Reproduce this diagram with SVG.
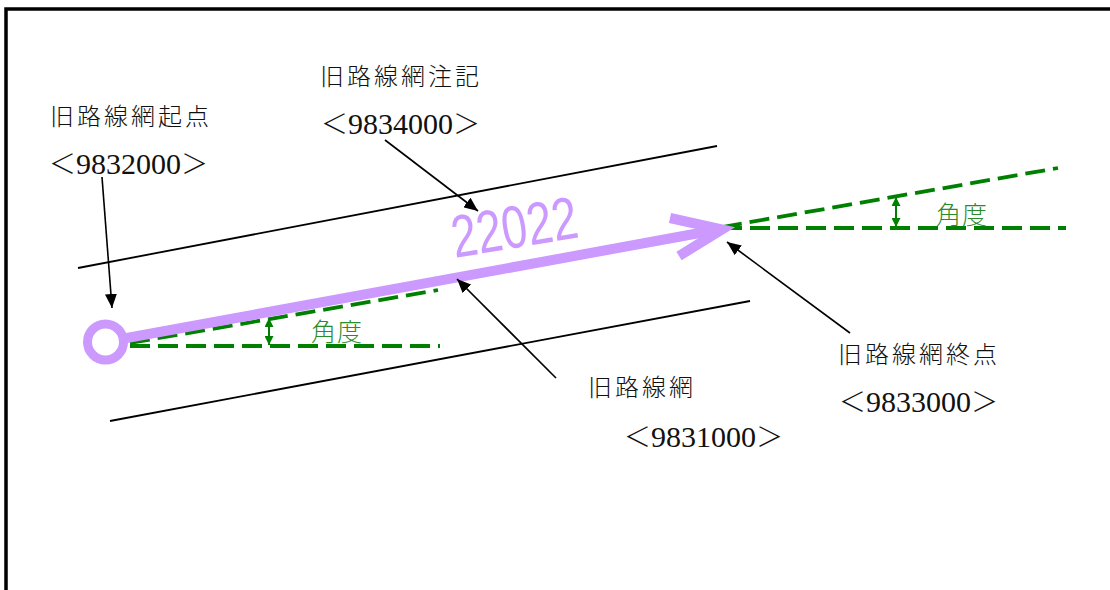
<svg xmlns="http://www.w3.org/2000/svg" width="1110" height="590" viewBox="0 0 1110 590">
<defs>
<style>
.lbl{font-family:"Liberation Serif","Noto Sans CJK JP",serif;font-size:24px;font-weight:300;fill:#111;letter-spacing:3px}
.num{font-family:"Liberation Serif","Noto Sans CJK JP",serif;font-size:27px;font-weight:300;fill:#111}
.d{font-size:30px;font-weight:normal}
.ang{font-family:"Noto Sans CJK JP",sans-serif;font-size:25px;font-weight:300;fill:#2a8c2a;letter-spacing:1px}
.rail{stroke:#000;stroke-width:1.8;fill:none}
.ptr{stroke:#000;stroke-width:1.6;fill:none;marker-end:url(#ah)}
.dash{stroke:#008000;stroke-width:3.8;fill:none;stroke-dasharray:20 8}
.dim{stroke:#008000;stroke-width:2;fill:none;marker-start:url(#gh);marker-end:url(#gh)}
.pur{stroke:#cc99ff;fill:none}
</style>
<marker id="ah" viewBox="0 0 14 12" refX="14" refY="6" markerWidth="14" markerHeight="12" markerUnits="userSpaceOnUse" orient="auto">
<path d="M0,0 L14,6 L0,12 Z" fill="#000"/>
</marker>
<marker id="gh" viewBox="0 0 10 10" refX="10" refY="5" markerWidth="9" markerHeight="9" markerUnits="userSpaceOnUse" orient="auto-start-reverse">
<path d="M0,0 L10,5 L0,10 Z" fill="#008000"/>
</marker>
</defs>
<rect x="0" y="0" width="1110" height="590" fill="#fff"/>
<rect x="6" y="9" width="1300" height="800" fill="none" stroke="#000" stroke-width="3.5"/>

<g id="rails">
<line class="rail" x1="78" y1="268" x2="717" y2="146"/>
<line class="rail" x1="110" y1="421" x2="750" y2="301"/>
</g>

<g id="angles">
<line class="dash" x1="130" y1="346" x2="440" y2="346"/>
<line class="dash" x1="130" y1="343" x2="438" y2="290"/>
<line class="dim" x1="269" y1="318" x2="269" y2="345"/>
<text class="ang" x="311" y="341">角度</text>
<line class="dash" x1="722" y1="228" x2="1066" y2="228"/>
<line class="dash" x1="722" y1="227" x2="1058" y2="168"/>
<line class="dim" x1="896" y1="197" x2="896" y2="227"/>
<text class="ang" x="936" y="224">角度</text>
</g>

<g id="network">
<circle class="pur" cx="105.5" cy="342" r="18" stroke-width="9"/>
<line class="pur" x1="124" y1="338.5" x2="716" y2="230" stroke-width="10"/>
<polyline class="pur" points="670,218 722,229.5 679,256" stroke-width="10" stroke-linejoin="miter" stroke-miterlimit="10"/>
<text transform="translate(455,258) rotate(-9.5)" font-family="Liberation Sans, sans-serif" font-size="60" fill="#cc99ff" textLength="127" lengthAdjust="spacingAndGlyphs">22022</text>
</g>

<g id="connectors">
<line class="ptr" x1="102" y1="177" x2="112" y2="308"/>
<line class="ptr" x1="385" y1="140" x2="478" y2="211"/>
<line class="ptr" x1="556" y1="378" x2="457" y2="279"/>
<line class="ptr" x1="850" y1="333" x2="727" y2="242"/>
</g>

<g id="label-start">
<text class="lbl" x="50" y="125">旧路線網起点</text>
<text class="num" x="49" y="174">＜<tspan class="d">9832000</tspan>＞</text>
</g>
<g id="label-note">
<text class="lbl" x="320" y="85">旧路線網注記</text>
<text class="num" x="321" y="134">＜<tspan class="d">9834000</tspan>＞</text>
</g>
<g id="label-line">
<text class="lbl" x="588" y="396">旧路線網</text>
<text class="num" x="624" y="447">＜<tspan class="d">9831000</tspan>＞</text>
</g>
<g id="label-end">
<text class="lbl" x="838" y="363">旧路線網終点</text>
<text class="num" x="839" y="412">＜<tspan class="d">9833000</tspan>＞</text>
</g>
</svg>
